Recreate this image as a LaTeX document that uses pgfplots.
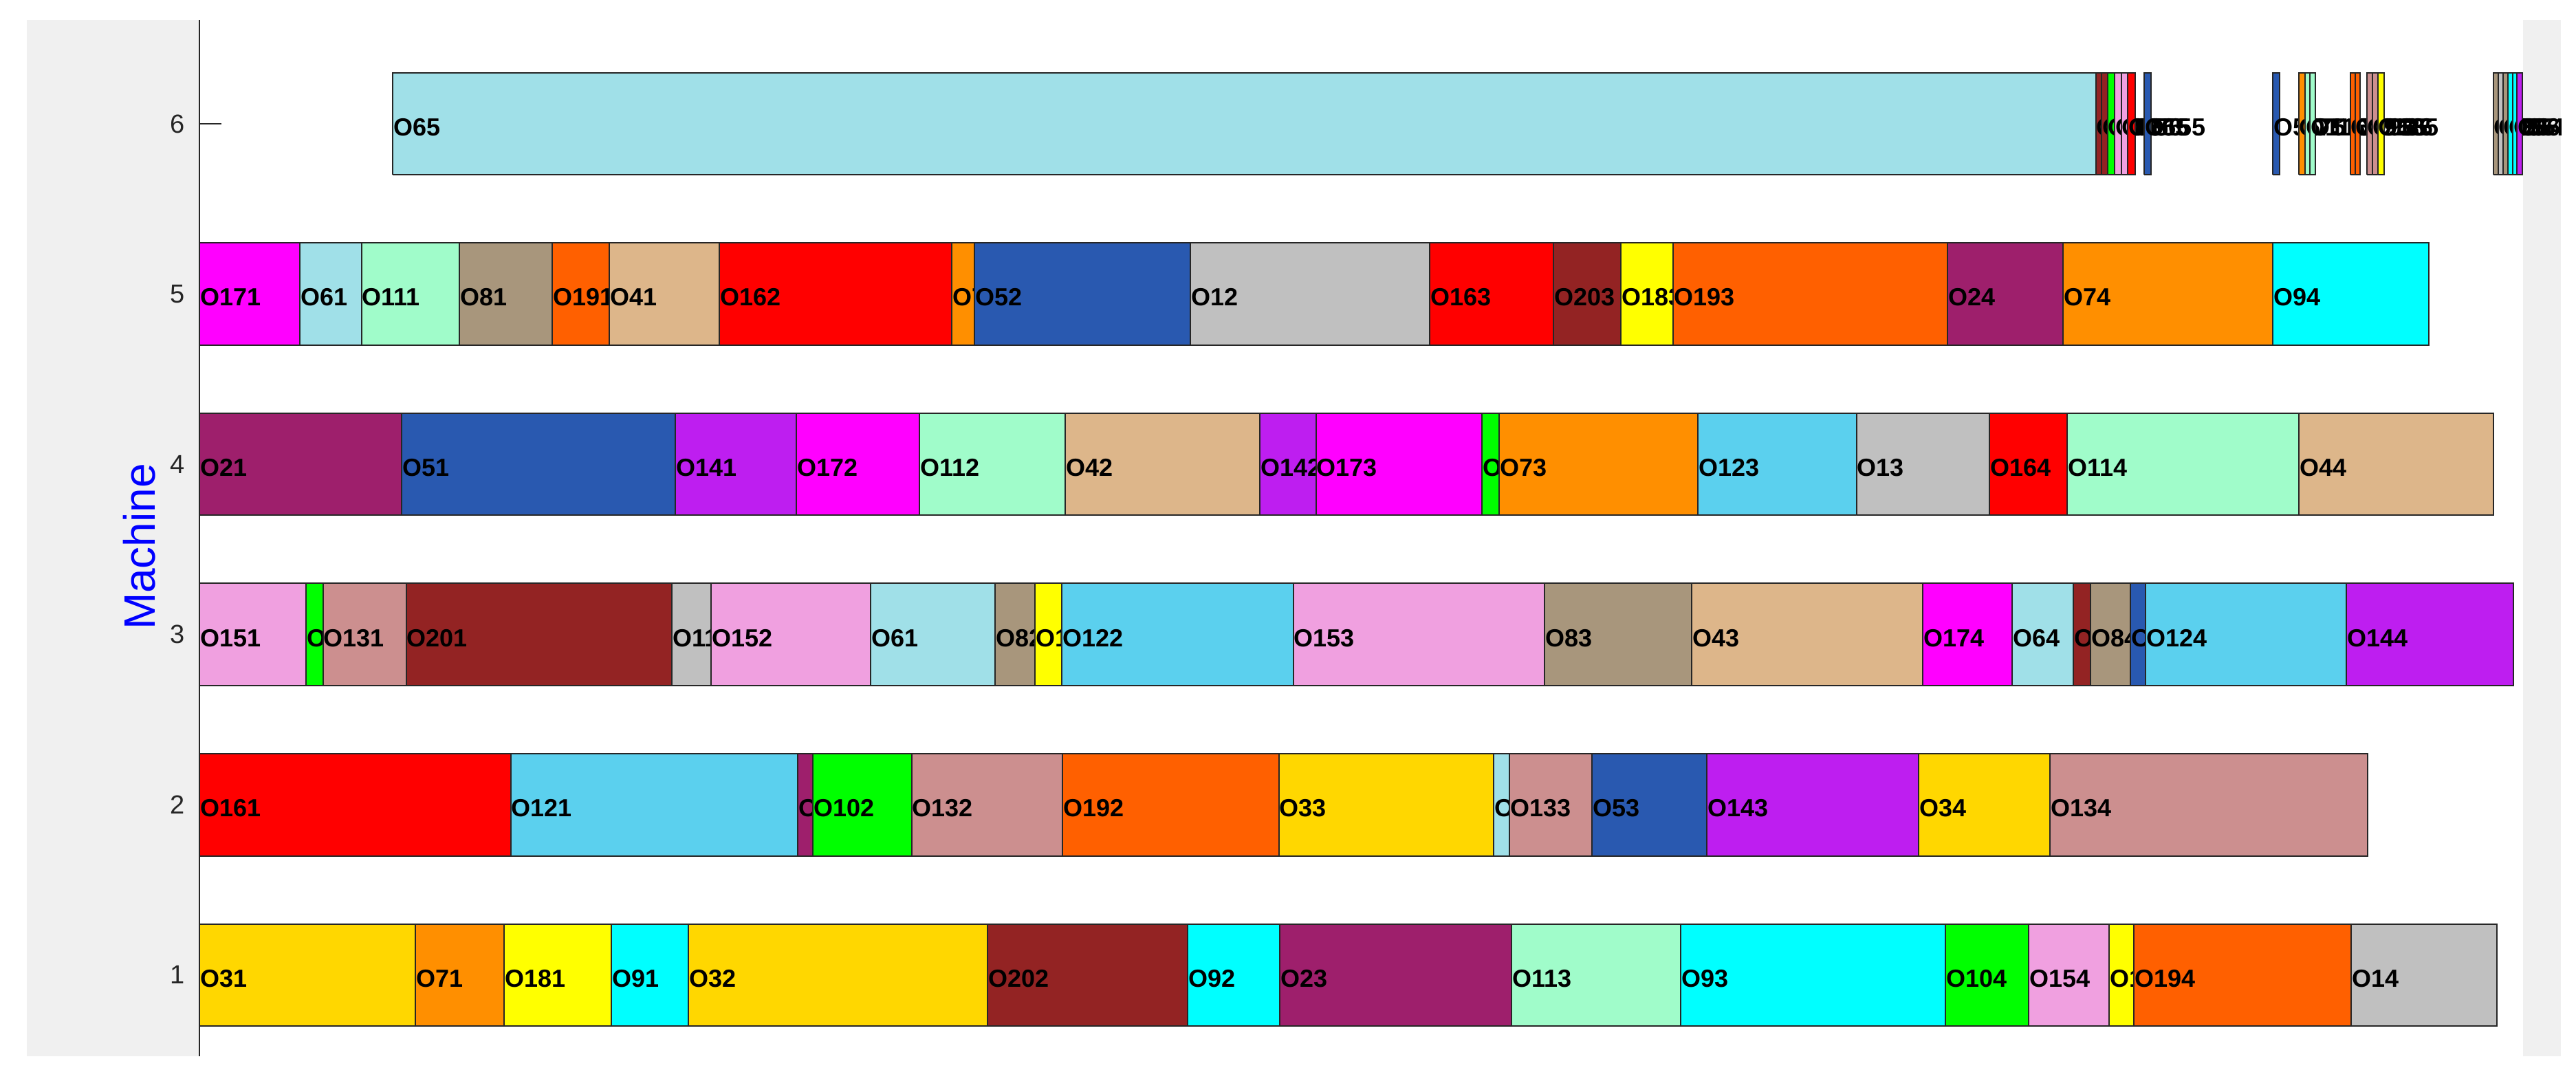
\documentclass[border=0pt]{standalone}
\usepackage{pgfplots}
\pgfplotsset{compat=1.18}
\usepackage{fontspec}
\setmainfont{Liberation Sans}
\definecolor{c1}{HTML}{C0C0C0}
\definecolor{c2}{HTML}{9E1F6C}
\definecolor{c3}{HTML}{FFD700}
\definecolor{c4}{HTML}{DDB68A}
\definecolor{c5}{HTML}{2959B0}
\definecolor{c6}{HTML}{A0E0E8}
\definecolor{c7}{HTML}{FF8F00}
\definecolor{c8}{HTML}{A8967C}
\definecolor{c9}{HTML}{00FFFF}
\definecolor{c10}{HTML}{00FF00}
\definecolor{c11}{HTML}{A0FCCA}
\definecolor{c12}{HTML}{5BD0EE}
\definecolor{c13}{HTML}{CC8F8F}
\definecolor{c14}{HTML}{BE1EF0}
\definecolor{c15}{HTML}{F0A0E0}
\definecolor{c16}{HTML}{FF0000}
\definecolor{c17}{HTML}{FF00FF}
\definecolor{c18}{HTML}{FFFF00}
\definecolor{c19}{HTML}{FF6000}
\definecolor{c20}{HTML}{932323}
\definecolor{figgray}{HTML}{F0F0F0}
\definecolor{axgray}{HTML}{262626}
% \job{start}{end}{machine}{colour}{label}
\newcommand{\job}[5]{%
  \addplot[fill=#4, draw=black!85, line width=0.4pt, forget plot]
    table[row sep=\\, x index=0, y expr=#3+\thisrowno{1}] {#1 -0.3\\#2 -0.3\\#2 0.3\\#1 0.3\\#1 -0.3\\};
  \node[anchor=west, inner sep=0pt, font=\bfseries\fontsize{7.2}{8}\selectfont, yshift=-1pt] at (axis cs:#1,#3) {#5};
}
\begin{document}
\begin{tikzpicture}
\useasboundingbox (0,0) rectangle (749.2pt,317.6pt);
\fill[figgray] (7.8pt,10.4pt) rectangle (744.8pt,311.8pt);
\begin{scope}
\clip (7.8pt,10.4pt) rectangle (744.8pt,311.8pt);
\begin{axis}[
  at={(58pt,10.4pt)}, anchor=south west,
  scale only axis, width=675.8pt, height=301.4pt,
  xmin=0, xmax=3379, ymin=0.523, ymax=6.61,
  axis x line=none, axis y line=left,
  axis line style={-, draw=axgray, line width=0.5pt},
  ytick={1,2,3,4,5,6},
  ytick align=inside, major tick length=6.4pt,
  tick style={draw=axgray, line width=0.4pt},
  yticklabel style={font=\fontsize{7.6}{9}\selectfont, text=axgray, inner sep=0pt, anchor=east, xshift=-4pt},
  /pgf/number format/assume math mode=true,
  ylabel={Machine},
  ylabel style={font=\fontsize{12.8}{14}\selectfont, text=blue, at={(axis description cs:-0.026,0.4917)}, anchor=center},
  axis background/.style={fill=white},
  clip=false,
]
% Machine 1
\job{0}{314}{1}{c3}{O31}
\job{314}{443}{1}{c7}{O71}
\job{443}{599}{1}{c18}{O181}
\job{599}{711}{1}{c9}{O91}
\job{711}{1146}{1}{c3}{O32}
\job{1146}{1437}{1}{c20}{O202}
\job{1437}{1571}{1}{c9}{O92}
\job{1571}{1908}{1}{c2}{O23}
\job{1908}{2154}{1}{c11}{O113}
\job{2154}{2539}{1}{c9}{O93}
\job{2539}{2660}{1}{c10}{O104}
\job{2660}{2777}{1}{c15}{O154}
\job{2777}{2813}{1}{c18}{O184}
\job{2813}{3129}{1}{c19}{O194}
\job{3129}{3341}{1}{c1}{O14}
% Machine 2
\job{0}{452.5}{2}{c16}{O161}
\job{452.5}{870}{2}{c12}{O121}
\job{870}{892}{2}{c2}{O22}
\job{892}{1035.6}{2}{c10}{O102}
\job{1035.6}{1255}{2}{c13}{O132}
\job{1255}{1569.5}{2}{c19}{O192}
\job{1569.5}{1882}{2}{c3}{O33}
\job{1882}{1905}{2}{c6}{O63}
\job{1905}{2025}{2}{c13}{O133}
\job{2025}{2192}{2}{c5}{O53}
\job{2192}{2500}{2}{c14}{O143}
\job{2500}{2691}{2}{c3}{O34}
\job{2691}{3153}{2}{c13}{O134}
% Machine 3
\job{0}{155}{3}{c15}{O151}
\job{155}{179.6}{3}{c10}{O101}
\job{179.6}{300.6}{3}{c13}{O131}
\job{300.6}{687}{3}{c20}{O201}
\job{687}{744.4}{3}{c1}{O11}
\job{744.4}{976}{3}{c15}{O152}
\job{976}{1157.4}{3}{c6}{O61}
\job{1157.4}{1215}{3}{c8}{O82}
\job{1215}{1254}{3}{c18}{O182}
\job{1254}{1590.6}{3}{c12}{O122}
\job{1590.6}{1956.4}{3}{c15}{O153}
\job{1956.4}{2170}{3}{c8}{O83}
\job{2170}{2506}{3}{c4}{O43}
\job{2506}{2636}{3}{c17}{O174}
\job{2636}{2725}{3}{c6}{O64}
\job{2725}{2750}{3}{c20}{O204}
\job{2750}{2808}{3}{c8}{O84}
\job{2808}{2830}{3}{c5}{O54}
\job{2830}{3122}{3}{c12}{O124}
\job{3122}{3364.5}{3}{c14}{O144}
% Machine 4
\job{0}{294}{4}{c2}{O21}
\job{294}{692}{4}{c5}{O51}
\job{692}{868}{4}{c14}{O141}
\job{868}{1047}{4}{c17}{O172}
\job{1047}{1259}{4}{c11}{O112}
\job{1259}{1542}{4}{c4}{O42}
\job{1542}{1623.5}{4}{c14}{O142}
\job{1623.5}{1865}{4}{c17}{O173}
\job{1865}{1890}{4}{c10}{O103}
\job{1890}{2179}{4}{c7}{O73}
\job{2179}{2409.5}{4}{c12}{O123}
\job{2409.5}{2603}{4}{c1}{O13}
\job{2603}{2716}{4}{c16}{O164}
\job{2716}{3053}{4}{c11}{O114}
\job{3053}{3336}{4}{c4}{O44}
% Machine 5
\job{0}{146}{5}{c17}{O171}
\job{146}{235.5}{5}{c6}{O61}
\job{235.5}{378}{5}{c11}{O111}
\job{378}{513}{5}{c8}{O81}
\job{513}{596}{5}{c19}{O191}
\job{596}{756}{5}{c4}{O41}
\job{756}{1094}{5}{c16}{O162}
\job{1094}{1127}{5}{c7}{O72}
\job{1127}{1441}{5}{c5}{O52}
\job{1441}{1789}{5}{c1}{O12}
\job{1789}{1969}{5}{c16}{O163}
\job{1969}{2067}{5}{c20}{O203}
\job{2067}{2143}{5}{c18}{O183}
\job{2143}{2542}{5}{c19}{O193}
\job{2542}{2710}{5}{c2}{O24}
\job{2710}{3015}{5}{c7}{O74}
\job{3015}{3242}{5}{c9}{O94}
% Machine 6
\job{281}{2757.6}{6}{c6}{O65}
\job{2757.6}{2766.1}{6}{c20}{O205}
\job{2766.1}{2774.7}{6}{c20}{O206}
\job{2774.7}{2785.2}{6}{c10}{O105}
\job{2785.2}{2794.7}{6}{c15}{O155}
\job{2794.7}{2804.2}{6}{c15}{O156}
\job{2804.2}{2814.7}{6}{c16}{O165}
\job{2828}{2837.5}{6}{c5}{O155}
\job{3015}{3024.5}{6}{c5}{O56}
\job{3052.5}{3062}{6}{c7}{O75}
\job{3062}{3069}{6}{c11}{O115}
\job{3069}{3077}{6}{c11}{O116}
\job{3127.7}{3134.8}{6}{c19}{O195}
\job{3134.8}{3142}{6}{c19}{O196}
\job{3151.5}{3159.6}{6}{c13}{O135}
\job{3159.6}{3167.7}{6}{c13}{O136}
\job{3167.7}{3177.2}{6}{c18}{O185}
\job{3335.6}{3342.7}{6}{c8}{O85}
\job{3342.7}{3349.9}{6}{c1}{O15}
\job{3349.9}{3357}{6}{c8}{O86}
\job{3357}{3364.1}{6}{c9}{O95}
\job{3364.1}{3370.3}{6}{c9}{O96}
\job{3370.3}{3377.5}{6}{c14}{O145}
\end{axis}
\end{scope}
\end{tikzpicture}
\end{document}
